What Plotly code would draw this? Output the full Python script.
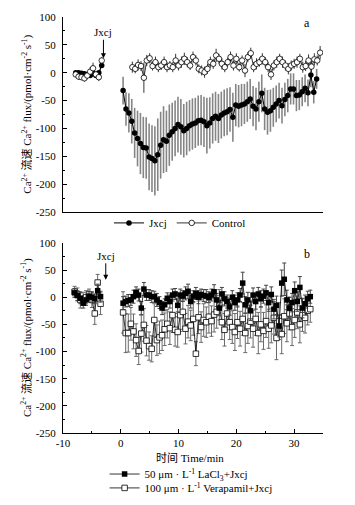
import plotly.graph_objects as go

# ---------------- panel a ----------------
top_pre_time = [-7.8, -7.3, -6.8, -6.3, -5.8, -5.3, -4.8, -4.3, -3.8, -3.3]
jxcj_pre = [0, 0, -1, -2, -3, -5, -2, -5, 0, 13]
jxcj_pre_err = [3, 3, 3, 3, 3, 4, 3, 4, 3, 4]
control_pre = [-3, -7, -8, -10, -5, 2, 8, -3, -8, 22]
control_pre_err = [5, 6, 5, 6, 7, 8, 10, 6, 7, 6]

jxcj_post_start, jxcj_post_step = 0.4, 0.5
jxcj_post = [-32, -65, -72, -87, -108, -118, -127, -134, -135, -151,
             -154, -158, -147, -130, -120, -123, -112, -106, -100, -93,
             -97, -104, -100, -95, -92, -90, -86, -85, -88, -95,
             -90, -82, -78, -82, -76, -72, -70, -66, -80, -58,
             -60, -58, -56, -52, -47, -60, -65, -52, -37, -65,
             -71, -68, -62, -56, -50, -59, -48, -41, -29, -29,
             -41, -40, -34, -28, -36, -4, -35, -11]
jxcj_post_err = [25, 30, 35, 40, 45, 50, 55, 55, 55, 60,
                 60, 62, 65, 60, 60, 55, 55, 52, 50, 50,
                 50, 48, 48, 46, 46, 45, 45, 45, 45, 50,
                 46, 45, 44, 44, 42, 42, 42, 40, 44, 38,
                 38, 38, 36, 36, 36, 36, 38, 36, 34, 38,
                 40, 38, 35, 33, 32, 32, 30, 30, 28, 28,
                 28, 27, 26, 25, 24, 22, 20, 18]

control_post_start, control_post_step = 2.0, 0.5
control_post = [10, 7, 14, 12, -9, 22, 26, 12, 19, 10,
                13, 19, 10, 13, 10, 22, 13, 19, 25, 19,
                13, 28, 22, 7, 4, 1, 7, 19, 16, 31,
                25, 16, 10, 19, 28, 13, 25, 10, 22, 4,
                28, 35, 10, 16, 19, 25, 19, 10, -3, 13,
                19, 25, 19, 13, 7, 13, 16, 19, 25, 10,
                12, 22, 11, 24, 22, 36]
control_post_err = [10, 8, 10, 9, 27, 10, 9, 8, 10, 9,
                    8, 10, 9, 8, 9, 12, 9, 10, 11, 9,
                    8, 10, 9, 8, 9, 10, 9, 10, 9, 12,
                    9, 10, 9, 8, 10, 9, 10, 8, 9, 12,
                    9, 10, 9, 10, 8, 10, 9, 9, 10, 9,
                    10, 9, 10, 9, 10, 9, 9, 10, 9, 10,
                    9, 11, 10, 11, 9, 12]

# ---------------- panel b ----------------
bot_pre_time = [-8.0, -7.5, -7.0, -6.5, -6.0, -5.5, -5.0, -4.5, -4.0, -3.5]
lacl_pre = [8, 3, -2, -11, -5, 2, 0, -3, 12, 1]
lacl_pre_err = [8, 9, 10, 9, 10, 9, 10, 9, 12, 10]
vera_pre = [10, 5, -5, -3, 0, 5, -5, -30, 27, -12]
vera_pre_err = [10, 12, 15, 12, 12, 10, 14, 20, 15, 20]

bot_post_start, bot_post_step = 0.4, 0.45
lacl_post = [-11, -8, -6, -5, 1, 9, 4, -20, 15, 4,
             4, 1, 1, -5, -10, -20, -14, -2, -8, 4,
             6, -15, 4, 2, 7, 11, -8, 2, 7, 0,
             5, 3, 2, 0, 4, 10, -5, -20, 6, -3,
             -8, -18, 0, -10, -5, 4, 26, -14, -5, -25,
             4, -8, 6, -3, 2, 8, -10, 5, -22, -15,
             -53, 26, 33, -5, -20, -10, 12, -8, 18, -20,
             -12, -3, 1]
lacl_post_err = [12, 10, 11, 10, 12, 10, 11, 12, 12, 10,
                 10, 11, 10, 12, 11, 12, 11, 10, 12, 11,
                 10, 12, 11, 10, 12, 13, 12, 10, 11, 12,
                 10, 11, 12, 10, 11, 13, 12, 14, 12, 13,
                 12, 15, 12, 14, 13, 12, 20, 15, 14, 18,
                 13, 14, 12, 15, 13, 14, 16, 14, 18, 17,
                 20, 24, 30, 18, 20, 17, 16, 18, 20, 18,
                 16, 14, 12]
vera_post = [-28, -66, -66, -49, -63, -79, -99, -67, -51, -80,
             -90, -95, -42, -79, -74, -70, -59, -49, -57, -33,
             -60, -64, -33, -27, -58, -45, -52, -40, -104, -37,
             -55, -42, -46, -36, -44, -32, -27, -14, -46, -60,
             -30, -46, -55, -64, -46, -58, -40, -66, -53, -45,
             -58, -40, -66, -50, -62, -44, -58, -52, -38, -75,
             -44, -68, -35, -48, -30, -55, -42, -28, -50, -33,
             -38, -25, -22]
vera_post_err = [38, 36, 35, 30, 32, 30, 25, 34, 30, 28,
                 26, 24, 30, 28, 30, 28, 30, 26, 30, 32,
                 30, 28, 30, 32, 28, 30, 28, 30, 22, 30,
                 28, 30, 28, 30, 28, 32, 30, 28, 32, 30,
                 30, 32, 30, 34, 30, 32, 30, 36, 32, 30,
                 34, 30, 38, 32, 34, 30, 36, 32, 30, 40,
                 34, 36, 32, 34, 30, 34, 32, 30, 34, 30,
                 28, 26, 24]

y_ticks = [100, 50, 0, -50, -100, -150, -200, -250]
x_ticks = [-10, 0, 10, 20, 30]

# ---------------- build series ----------------
def grid(start, step, n):
    return [round(start + step * i, 3) for i in range(n)]

jxcj_post_time = grid(jxcj_post_start, jxcj_post_step, len(jxcj_post))
control_post_time = grid(control_post_start, control_post_step, len(control_post))
bot_post_time = grid(bot_post_start, bot_post_step, len(lacl_post))

def join(a, b):
    return a + [None] + b

def join_err(a, b):
    return a + [0] + b

SERIF = "Liberation Serif, Times New Roman, Noto Sans CJK SC, serif"
GRAY = "#858585"

fig = go.Figure()

# panel a
fig.add_trace(go.Scatter(
    x=join(top_pre_time, jxcj_post_time), y=join(jxcj_pre, jxcj_post),
    error_y=dict(type="data", array=join_err(jxcj_pre_err, jxcj_post_err),
                 color=GRAY, thickness=1.6, width=0),
    mode="lines+markers", name="Jxcj",
    line=dict(color="black", width=1),
    marker=dict(symbol="circle", size=5.5, color="black"),
    xaxis="x", yaxis="y", legend="legend"))
fig.add_trace(go.Scatter(
    x=join(top_pre_time, control_post_time), y=join(control_pre, control_post),
    error_y=dict(type="data", array=join_err(control_pre_err, control_post_err),
                 color="black", thickness=0.8, width=0),
    mode="lines+markers", name="Control",
    line=dict(color="black", width=0.8),
    marker=dict(symbol="circle", size=5.5, color="white", line=dict(color="black", width=0.8)),
    xaxis="x", yaxis="y", legend="legend"))

# panel b
fig.add_trace(go.Scatter(
    x=join(bot_pre_time, bot_post_time), y=join(vera_pre, vera_post),
    error_y=dict(type="data", array=join_err(vera_pre_err, vera_post_err),
                 color="#6a6a6a", thickness=1, width=2),
    mode="lines+markers",
    name="100 μm · L<sup>-1</sup> Verapamil+Jxcj",
    line=dict(color="black", width=0.8),
    marker=dict(symbol="square", size=5.5, color="white", line=dict(color="black", width=0.8)),
    xaxis="x2", yaxis="y2", legend="legend3"))
fig.add_trace(go.Scatter(
    x=join(bot_pre_time, bot_post_time), y=join(lacl_pre, lacl_post),
    error_y=dict(type="data", array=join_err(lacl_pre_err, lacl_post_err),
                 color="#444444", thickness=1, width=2),
    mode="lines+markers",
    name="50 μm · L<sup>-1</sup> LaCl<sub>3</sub>+Jxcj",
    line=dict(color="black", width=0.8),
    marker=dict(symbol="square", size=5.5, color="black"),
    xaxis="x2", yaxis="y2", legend="legend2"))

tick_text_y = [str(v) for v in y_ticks]
tick_text_x = [str(v) for v in x_ticks]

yax = dict(range=[-250, 100], tickvals=y_ticks, ticktext=tick_text_y,
           ticks="inside", ticklen=4, tickwidth=1, tickcolor="black",
           minor=dict(dtick=25, ticks="inside", ticklen=2, tickcolor="black"),
           showline=True, linecolor="black", linewidth=1, showgrid=False,
           zeroline=False, tickfont=dict(family=SERIF, size=11, color="black"),
           ticklabelstandoff=4, fixedrange=True)

legfont = dict(family=SERIF, size=11, color="black")
# page body has an 8px default margin; the figure is sized/offset to compensate
fig.update_layout(
    width=339, height=489,
    margin=dict(l=55, r=24, t=9, b=64, autoexpand=False),
    paper_bgcolor="white", plot_bgcolor="white",
    font=dict(family=SERIF, size=11, color="black"),
    xaxis=dict(domain=[0, 1], range=[-10, 35], anchor="y", showline=True,
               linecolor="black", linewidth=1, ticks="", showticklabels=False,
               showgrid=False, zeroline=False),
    yaxis=dict(domain=[0.531, 1], anchor="x", **yax),
    xaxis2=dict(domain=[0, 1], range=[-10, 35], anchor="y2", showline=True,
                linecolor="black", linewidth=1, tickvals=x_ticks, ticktext=tick_text_x,
                ticks="inside", ticklen=4, tickcolor="black",
                minor=dict(dtick=5, ticks="inside", ticklen=2, tickcolor="black"),
                showgrid=False, zeroline=False,
                tickfont=dict(family=SERIF, size=11, color="black")),
    yaxis2=dict(domain=[0, 0.457], anchor="x2", **yax),
    legend=dict(orientation="h", x=0.45, xanchor="center", y=0.505, yanchor="middle",
                font=legfont, bgcolor="rgba(0,0,0,0)", itemwidth=30),
    legend2=dict(orientation="v", x=0.16, xanchor="left", y=-0.0986, yanchor="middle",
                 font=legfont, bgcolor="rgba(0,0,0,0)", itemwidth=30),
    legend3=dict(orientation="v", x=0.16, xanchor="left", y=-0.132, yanchor="middle",
                 font=legfont, bgcolor="rgba(0,0,0,0)", itemwidth=30),
    showlegend=True,
)

ytitle = "Ca<sup>2+</sup> 流速 Ca<sup>2+</sup> flux/(pmol·cm<sup>-2</sup> s<sup>-1</sup>)"
annotations = [
    dict(text=ytitle, xref="paper", yref="y domain", x=-0.138, y=0.5, textangle=-90,
         xanchor="center", yanchor="middle",
         showarrow=False, font=dict(family=SERIF, size=11)),
    dict(text=ytitle, xref="paper", yref="y2 domain", x=-0.138, y=0.5, textangle=-90,
         xanchor="center", yanchor="middle",
         showarrow=False, font=dict(family=SERIF, size=11)),
    dict(text="a", xref="paper", yref="y domain", x=0.94, y=0.97, showarrow=False,
         xanchor="center", yanchor="middle", font=dict(family=SERIF, size=12)),
    dict(text="b", xref="paper", yref="y2 domain", x=0.94, y=0.94, showarrow=False,
         xanchor="center", yanchor="middle", font=dict(family=SERIF, size=12)),
    dict(text="Jxcj", xref="x", yref="y", x=-3.0, y=26, ax=0, ay=-26,
         showarrow=True, arrowhead=2, arrowsize=1, arrowwidth=1, arrowcolor="black",
         font=dict(family=SERIF, size=11)),
    dict(text="Jxcj", xref="x2", yref="y2", x=-2.6, y=32, ax=0, ay=-24,
         showarrow=True, arrowhead=2, arrowsize=1, arrowwidth=1, arrowcolor="black",
         font=dict(family=SERIF, size=11)),
    dict(text="时间 Time/min", xref="paper", yref="paper", x=0.49, y=-0.06,
         xanchor="center", yanchor="middle", showarrow=False, font=dict(family=SERIF, size=11)),
]
fig.update_layout(annotations=annotations)

fig.write_html("out.html")
